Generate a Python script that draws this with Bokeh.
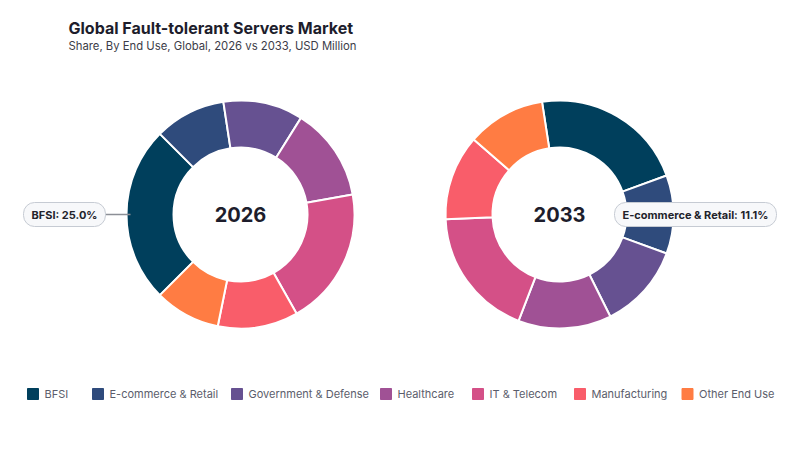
import numpy as np
from bokeh.plotting import figure
from bokeh.models import Range1d, Label
from bokeh.core.properties import value
from bokeh.embed import file_html
from bokeh.resources import INLINE

# ---------------- data ----------------
title = "Global Fault-tolerant Servers Market"
subtitle = "Share, By End Use, Global, 2026 vs 2033, USD Million"
categories = ["BFSI", "E-commerce & Retail", "Government & Defense", "Healthcare",
              "IT & Telecom", "Manufacturing", "Other End Use"]
years = ["2026", "2033"]
values_2026 = [25.0, 10.1, 11.3, 13.3, 19.6, 11.4, 9.3]
values_2033 = [21.9, 11.1, 12.1, 13.2, 18.5, 12.1, 11.1]
highlighted = ["BFSI", "E-commerce & Retail"]

# ---------------- style / layout ----------------
colors = ["#003f5c", "#2f4b7c", "#665191", "#a05195", "#d45087", "#f95d6a", "#ff7c43"]
FONT = "Inter"
W, H = 784, 434


def X(px):
    return px


def Y(py):
    return H - py


p = figure(width=W, height=H, x_range=Range1d(0, W), y_range=Range1d(0, H),
           output_backend="svg", toolbar_location=None, min_border=0)
p.axis.visible = False
p.grid.visible = False
p.outline_line_color = None
p.background_fill_color = "white"
p.border_fill_color = "white"

R_OUT, R_IN = 114, 67
layout = [
    dict(cx=X(240), cy=Y(214), mid=np.pi, side="left"),
    dict(cx=X(559), cy=Y(214), mid=0.0, side="right"),
]
series = [values_2026, values_2033]

labels_to_add = []
for year, vals, hl, lay in zip(years, series, highlighted, layout):
    v = np.array(vals, dtype=float)
    frac = v / v.sum()
    idx = categories.index(hl)
    offset = frac[:idx].sum() + frac[idx] / 2
    start0 = lay["mid"] + offset * 2 * np.pi
    cum = np.concatenate([[0], np.cumsum(frac)[:-1]])
    a_start = start0 - cum * 2 * np.pi
    a_end = a_start - frac * 2 * np.pi
    p.annular_wedge(x=lay["cx"], y=lay["cy"], inner_radius=R_IN, outer_radius=R_OUT,
                    start_angle=a_end, end_angle=a_start, direction="anticlock",
                    fill_color=colors, line_color="white", line_width=2)
    p.text(x=[lay["cx"]], y=[lay["cy"]], text=[year], text_font=value(FONT),
           text_font_size="20px", text_font_style="bold", text_align="center",
           text_baseline="middle", text_color="#1d1d2c")

    label_text = f"{hl}: {frac[idx] * 100:.1f}%"
    if lay["side"] == "left":
        edge_x = lay["cx"] - R_OUT
        p.line(x=[edge_x - 22, edge_x + 4], y=[lay["cy"], lay["cy"]],
               line_color="#8c8f96", line_width=1.5)
        lx = edge_x - 22 - 40
    else:
        lx = lay["cx"] + 55 + 81
    labels_to_add.append(Label(x=lx, y=lay["cy"], text=label_text, text_align="center",
                               text_baseline="middle", text_font=FONT,
                               text_font_size="11px", text_font_style="bold",
                               text_color="#22232b",
                               background_fill_color="#f7f8fa",
                               border_line_color="#c6cbd3", border_line_width=1,
                               border_radius=11, padding=(8, 5)))
for lb in labels_to_add:
    p.add_layout(lb)

# title
p.text(x=[X(68)], y=[Y(27)], text=[title], text_font=value(FONT), text_font_size="16px",
       text_font_style="bold", text_color="#1d1d2c", text_align="left",
       text_baseline="alphabetic")
p.text(x=[X(68)], y=[Y(45)], text=[subtitle], text_font=value(FONT), text_font_size="11.3px",
       text_color="#3c3c48", text_align="left", text_baseline="alphabetic")

# legend
legend_marker_x = [32.5, 97.5, 236.5, 385.5, 477.5, 579.5, 687]
legend_y = Y(393.5)
p.scatter(x=[X(v) for v in legend_marker_x], y=[legend_y] * len(categories),
          marker="square", size=11, fill_color=colors, line_color=colors, line_width=1)
p.text(x=[X(v + 11.5) for v in legend_marker_x], y=[legend_y] * len(categories),
       text=categories, text_font=value(FONT), text_font_size="11px",
       text_color="#5b5d6b", text_align="left", text_baseline="middle")

with open("out.html", "w") as f:
    f.write(file_html(p, INLINE))
